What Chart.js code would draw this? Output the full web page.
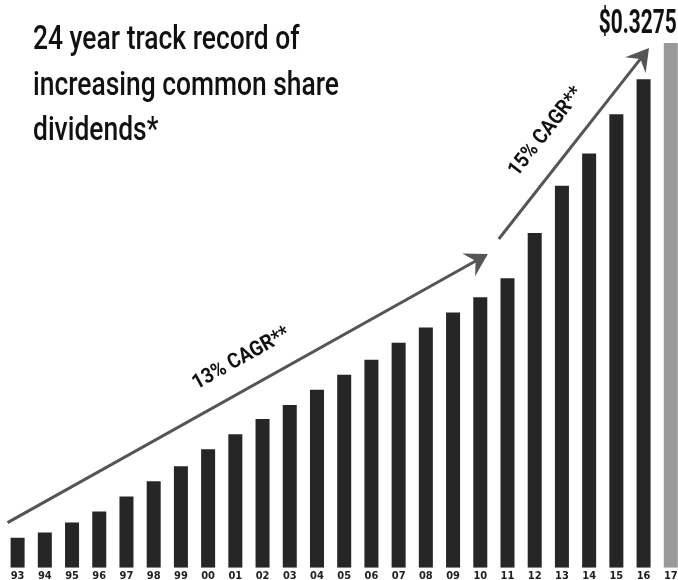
<!DOCTYPE html>
<html>
<head>
<meta charset="utf-8">
<script src="https://cdn.jsdelivr.net/npm/chart.js@4"></script>
<style>
  html, body { margin: 0; padding: 0; background: #fff; overflow: hidden; }
  #wrap { position: relative; width: 700px; height: 580px; }
</style>
</head>
<body>
<div id="wrap"><canvas id="grafico"></canvas></div>
<script>
const anos = ['93','94','95','96','97','98','99','00','01','02','03','04','05','06','07','08','09','10','11','12','13','14','15','16','17'];
const dividendos = [0.0188, 0.0220, 0.0282, 0.0351, 0.0445, 0.0540, 0.0634, 0.0740, 0.0834, 0.0929,
  0.1016, 0.1111, 0.1205, 0.1299, 0.1405, 0.1500, 0.1594, 0.1688, 0.1807, 0.2089,
  0.2384, 0.2585, 0.2830, 0.3049, 0.3275];
const tituloLinhas = ['24 year track record of', 'increasing common share', 'dividends*'];
const rotuloFinal = '$0.3275';
const cagr = ['13% CAGR**', '15% CAGR**'];

const FONTE = 'Roboto, "DejaVu Sans Condensed", sans-serif';
const FONTE_EIXO = '"DejaVu Sans Condensed", "Liberation Sans Narrow", sans-serif';
const cores = anos.map((a, i) => i === anos.length - 1 ? '#999999' : '#262626');

// draws text squeezed to a given width
function textoAjustado(ctx, txt, x, y, largura, align) {
  const w = ctx.measureText(txt).width;
  const s = largura / w;
  ctx.save();
  ctx.translate(x, y);
  ctx.scale(s, 1);
  ctx.textAlign = align || 'left';
  ctx.fillText(txt, 0, 0);
  ctx.restore();
}

function seta(ctx, x1, y1, x2, y2) {
  const ang = Math.atan2(y2 - y1, x2 - x1);
  ctx.save();
  ctx.strokeStyle = '#555';
  ctx.fillStyle = '#555';
  ctx.lineWidth = 3;
  ctx.beginPath();
  ctx.moveTo(x1, y1);
  ctx.lineTo(x2 - 10 * Math.cos(ang), y2 - 10 * Math.sin(ang));
  ctx.stroke();
  ctx.translate(x2, y2);
  ctx.rotate(ang);
  ctx.beginPath();
  ctx.moveTo(0, 0);
  ctx.lineTo(-22, -13);
  ctx.lineTo(-14, 0);
  ctx.lineTo(-22, 13);
  ctx.closePath();
  ctx.fill();
  ctx.restore();
}

function rotuloSeta(ctx, txt, x1, y1, x2, y2, t, off, largura) {
  const ang = Math.atan2(y2 - y1, x2 - x1);
  const px = x1 + (x2 - x1) * t + off * Math.sin(ang);
  const py = y1 + (y2 - y1) * t - off * Math.cos(ang);
  ctx.save();
  ctx.translate(px, py);
  ctx.rotate(ang);
  ctx.font = 'bold 21px ' + FONTE;
  ctx.fillStyle = '#111';
  ctx.textBaseline = 'middle';
  textoAjustado(ctx, txt, 0, 0, largura, 'center');
  ctx.restore();
}

const anotacoes = {
  id: 'anotacoes',
  afterDraw(chart) {
    const { ctx, scales: { x, y } } = chart;
    ctx.save();

    // title
    ctx.fillStyle = '#111';
    ctx.font = '500 34px ' + FONTE;
    ctx.textBaseline = 'alphabetic';
    const esc = 306 / ctx.measureText(tituloLinhas[1]).width;
    tituloLinhas.forEach((l, i) => {
      textoAjustado(ctx, l, 33, 49 + i * 45.5, ctx.measureText(l).width * esc);
    });

    // arrows (anchored in data space)
    const a1 = [x.getPixelForValue(-0.37), y.getPixelForValue(0.0282), x.getPixelForValue(17.28), y.getPixelForValue(0.1958)];
    const a2 = [x.getPixelForValue(17.68), y.getPixelForValue(0.2052), x.getPixelForValue(23.2), y.getPixelForValue(0.3244)];
    seta(ctx, ...a1);
    seta(ctx, ...a2);
    rotuloSeta(ctx, cagr[0], ...a1, 0.516, 29, 108);
    rotuloSeta(ctx, cagr[1], ...a2, 0.467, 29, 107);

    // last value
    const ult = chart.getDatasetMeta(0).data[anos.length - 1];
    ctx.fillStyle = '#111';
    ctx.font = 'bold 33px ' + FONTE;
    textoAjustado(ctx, rotuloFinal, ult.x + 6, 33, 78, 'right');

    ctx.restore();
  }
};

new Chart(document.getElementById('grafico'), {
  type: 'bar',
  data: {
    labels: anos,
    datasets: [{
      data: dividendos,
      backgroundColor: cores,
      categoryPercentage: 1,
      barPercentage: 0.515
    }]
  },
  options: {
    responsive: true,
    maintainAspectRatio: false,
    animation: false,
    layout: { padding: { left: 4, right: 15.6, top: 7, bottom: -5 } },
    plugins: { legend: { display: false }, tooltip: { enabled: false }, title: { display: false } },
    scales: {
      x: {
        grid: { display: false, drawTicks: false },
        border: { display: false },
        ticks: { color: '#222', padding: 2, font: { family: FONTE_EIXO, size: 11, weight: 'bold' }, maxRotation: 0, autoSkip: false }
      },
      y: {
        display: false,
        min: 0,
        max: 0.35
      }
    }
  },
  plugins: [anotacoes]
});
</script>
</body>
</html>
